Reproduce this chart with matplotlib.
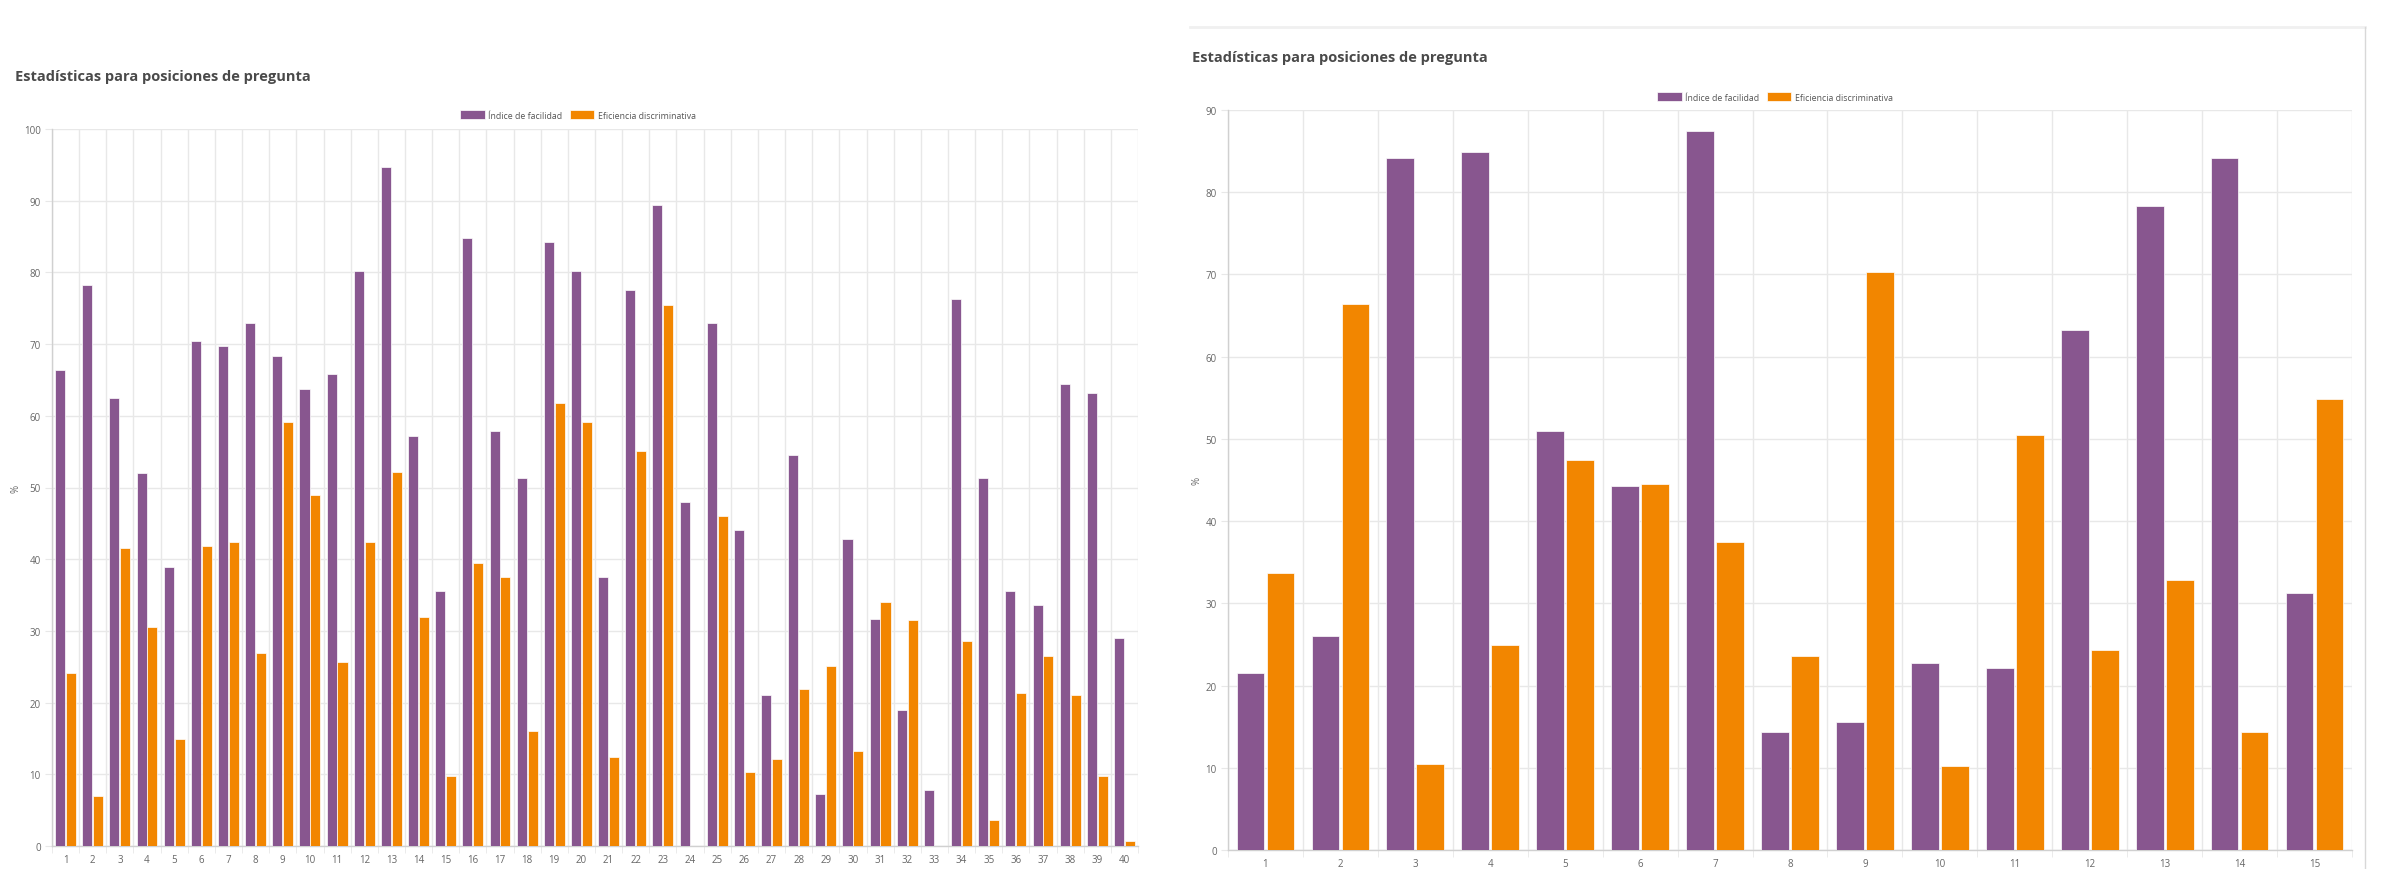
import numpy as np
import matplotlib
matplotlib.use("Agg")
import matplotlib.pyplot as plt
from matplotlib.lines import Line2D

plt.rcParams['font.family'] = ['Open Sans', 'DejaVu Sans']

# data
title = "Estadísticas para posiciones de pregunta"
series_names = ["Índice de facilidad", "Eficiencia discriminativa"]

left_labels = [str(i) for i in range(1, 41)]
left_facilidad = [66.4, 78.3, 62.5, 52.0, 38.9, 70.4, 69.7, 73.0, 68.4, 63.8,
                  65.8, 80.2, 94.7, 57.2, 35.6, 84.8, 57.9, 51.3, 84.2, 80.2,
                  37.5, 77.6, 89.4, 48.0, 73.0, 44.1, 21.0, 54.6, 7.2, 42.8,
                  31.6, 19.0, 7.8, 76.3, 51.3, 35.6, 33.6, 64.5, 63.2, 29.0]
left_discrim = [24.1, 7.0, 41.5, 30.5, 14.9, 41.8, 42.4, 26.9, 59.2, 48.9,
                25.7, 42.4, 52.1, 31.9, 9.8, 39.5, 37.5, 16.0, 61.8, 59.1,
                12.4, 55.1, 75.4, 0.0, 46.0, 10.3, 12.1, 21.9, 25.1, 13.3,
                34.1, 31.5, 0.0, 28.6, 3.6, 21.3, 26.5, 21.1, 9.7, 0.7]

right_labels = [str(i) for i in range(1, 16)]
right_facilidad = [21.5, 26.0, 84.2, 84.9, 50.9, 44.3, 87.5, 14.3, 15.6, 22.8,
                   22.1, 63.3, 78.3, 84.2, 31.2]
right_discrim = [33.7, 66.4, 10.5, 24.9, 47.4, 44.5, 37.4, 23.6, 70.3, 10.2,
                 50.5, 24.3, 32.8, 14.3, 54.9]

PURPLE = '#88568f'
ORANGE = '#f28600'
GRID = '#e8e8e8'
TICK = '#666666'

W, H = 2400, 870
fig = plt.figure(figsize=(W / 100, H / 100), dpi=100)


def px(x0, y_top, x1, y_bottom):
    # pixel box -> figure fraction rect
    return [x0 / W, 1 - y_bottom / H, (x1 - x0) / W, (y_bottom - y_top) / H]


def draw_panel(ax, labels, fac, dis, ymax, ylabel_x):
    n = len(labels)
    x = np.arange(1, n + 1)
    ax.bar(x - 0.2, fac, width=0.37, color=PURPLE, edgecolor='#ffffff',
           linewidth=0.5, label=series_names[0], zorder=3)
    ax.bar(x + 0.2, dis, width=0.37, color=ORANGE, edgecolor='#ffffff',
           linewidth=0.5, label=series_names[1], zorder=3)

    ax.set_xlim(0.5, n + 0.5)
    ax.set_ylim(0, ymax)
    ax.set_xticks(x)
    ax.set_xticklabels(labels)
    ax.set_xticks(np.arange(0.5, n + 1.0, 1.0), minor=True)
    ax.set_yticks(np.arange(0, ymax + 1, 10))

    ax.grid(True, which='minor', axis='x', color=GRID, linewidth=1, zorder=0)
    ax.grid(True, which='major', axis='y', color=GRID, linewidth=1, zorder=0)
    ax.tick_params(axis='x', which='major', length=0, pad=6,
                   labelsize=7, labelcolor=TICK)
    ax.tick_params(axis='x', which='minor', length=5, color=GRID)
    ax.tick_params(axis='y', which='major', length=5, color=GRID, pad=3,
                   labelsize=7, labelcolor=TICK)

    for s in ['top', 'right']:
        ax.spines[s].set_visible(False)
    for s in ['left', 'bottom']:
        ax.spines[s].set_color('#d0d0d0')
        ax.spines[s].set_linewidth(1)
    ax.set_ylabel('%', fontsize=7, color=TICK)
    ax.yaxis.set_label_coords(ylabel_x, 0.5)


# left panel
ax1 = fig.add_axes(px(52, 130, 1138, 847))
draw_panel(ax1, left_labels, left_facilidad, left_discrim, 100, -0.028)
fig.text(15 / W, 1 - 77 / H, title, fontsize=10.5, fontweight='bold',
         color='#4a4a4a', va='center', ha='left')
ax1.legend(loc='center', bbox_to_anchor=(578 / W, 1 - 116 / H),
           bbox_transform=fig.transFigure, ncol=2, frameon=False,
           fontsize=6.3, labelcolor='#555555', handlelength=2.8,
           handleheight=1.1, columnspacing=0.8, handletextpad=0.4)

# right panel
ax2 = fig.add_axes(px(1228, 111, 2352, 851))
draw_panel(ax2, right_labels, right_facilidad, right_discrim, 90, -0.023)
fig.text(1192 / W, 1 - 58 / H, title, fontsize=10.5, fontweight='bold',
         color='#4a4a4a', va='center', ha='left')
ax2.legend(loc='center', bbox_to_anchor=(1775 / W, 1 - 98 / H),
           bbox_transform=fig.transFigure, ncol=2, frameon=False,
           fontsize=6.3, labelcolor='#555555', handlelength=2.8,
           handleheight=1.1, columnspacing=0.8, handletextpad=0.4)

# card border around the right panel
fig.add_artist(Line2D([1190 / W, 2365 / W], [1 - 28 / H, 1 - 28 / H],
                      transform=fig.transFigure, color='#f0f0f0', linewidth=2))
fig.add_artist(Line2D([2365 / W, 2365 / W], [0, 1 - 28 / H],
                      transform=fig.transFigure, color='#d8d8d8', linewidth=1))

fig.savefig('out.png', dpi=100, facecolor='white')
